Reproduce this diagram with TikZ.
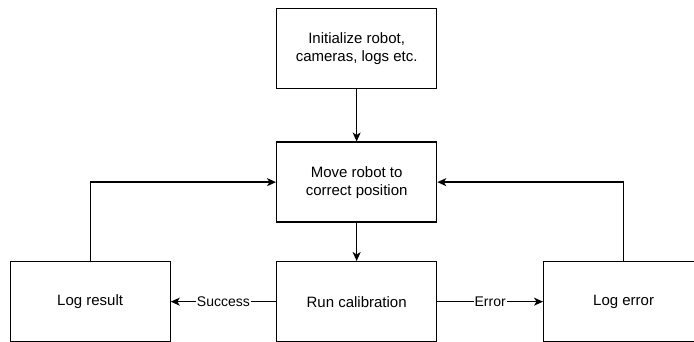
\documentclass[tikz,border=0pt]{standalone}
\usepackage{fontspec}
\setmainfont{Liberation Sans}
\usetikzlibrary{arrows.meta}
\begin{document}
\begin{tikzpicture}[x=1pt,y=-1pt,
  box/.style={draw=black, line width=1.3pt, minimum width=160pt, minimum height=80pt,
    inner sep=0pt, align=center, font=\fontsize{15}{18}\selectfont, anchor=north west},
  conn/.style={draw=black, line width=1.3pt, -{Stealth[length=9pt,width=8pt,inset=2.5pt]}},
  lbl/.style={fill=white, inner sep=1pt, font=\fontsize{14}{16}\selectfont}]
  \useasboundingbox (0,0) rectangle (694,342);
  \clip (0,0) rectangle (694,342);

  \node[box] (init) at (276,8) {Initialize robot,\\cameras, logs etc.};
  \node[box] (move) at (276,141.5) {Move robot to\\correct position};
  \node[box] (calib) at (276,261) {Run calibration};
  \node[box] (res) at (9.5,261) {Log result};
  \node[box] (err) at (543,261) {Log error};

  \draw[conn] (init) -- (move);
  \draw[conn] (move) -- (calib);
  \draw[conn] (calib) -- node[lbl] {Success} (res);
  \draw[conn] (calib) -- node[lbl] {Error} (err);
  \draw[conn] (res.north) |- (move.west);
  \draw[conn] (err.north) |- (move.east);
\end{tikzpicture}
\end{document}
